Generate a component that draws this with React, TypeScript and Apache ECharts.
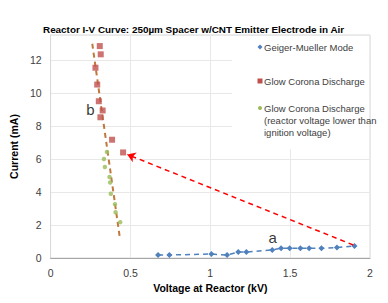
import React, { useEffect, useRef } from "react";
import * as echarts from "echarts";

const titleText = "Reactor I-V Curve: 250µm Spacer w/CNT Emitter Electrode in Air";
const xAxisName = "Voltage at Reactor (kV)";
const yAxisName = "Current (mA)";

const geigerVoltage = [0.673, 0.744, 1.007, 1.105, 1.175, 1.226, 1.388, 1.443, 1.497, 1.564, 1.619, 1.696, 1.793, 1.903];
const geigerCurrent = [0.18, 0.18, 0.24, 0.18, 0.36, 0.36, 0.49, 0.59, 0.59, 0.59, 0.59, 0.59, 0.63, 0.73];

const glowVoltage = [0.308, 0.314, 0.281, 0.292, 0.302, 0.326, 0.312, 0.385, 0.454];
const glowCurrent = [12.83, 12.33, 11.52, 10.5, 9.49, 8.93, 8.52, 7.16, 6.39];

const lowVoltage = [0.353, 0.334, 0.34, 0.369, 0.373, 0.377, 0.403, 0.407, 0.436];
const lowCurrent = [6.42, 5.99, 5.51, 4.9, 4.57, 3.89, 3.26, 2.77, 2.17];

const trendVoltage = [0.261, 0.432];
const trendCurrent = [12.97, 1.34];

const arrowVoltage = [1.895, 0.48];
const arrowCurrent = [0.79, 6.27];

const noteLabels = ["a", "b"];
const noteVoltage = [1.39, 0.25];
const noteCurrent = [1.25, 9.0];

const legendNames = [
  "Geiger-Mueller Mode",
  "Glow Corona Discharge",
  "Glow Corona Discharge\n(reactor voltage lower than\nignition voltage)",
];

const FONT = "'Liberation Sans', sans-serif";
const BLUE = "#4f81bd";
const RED = "#c0504d";
const GREEN = "#9bbb59";

const zip = (a: number[], b: number[]) => a.map((v, i) => [v, b[i]]);

export default function App() {
  const ref = useRef<HTMLDivElement>(null);
  useEffect(() => {
    if (!ref.current) return;
    const chart = echarts.init(ref.current, null, { renderer: "svg" });
    chart.setOption({
      animation: false,
      backgroundColor: "#ffffff",
      title: {
        text: titleText,
        left: 38,
        top: 19,
        textStyle: { fontFamily: FONT, fontSize: 9.9, fontWeight: "bold", color: "#000" },
      },
      grid: {
        left: 41,
        right: 18,
        top: 35,
        bottom: 45,
        show: true,
        borderColor: "#d9d9d9",
        borderWidth: 1,
      },
      xAxis: {
        type: "value",
        min: 0,
        max: 2,
        interval: 0.5,
        name: xAxisName,
        nameLocation: "middle",
        nameGap: 22,
        nameTextStyle: { fontFamily: FONT, fontSize: 10.5, fontWeight: "bold", color: "#000" },
        axisLine: { show: true, lineStyle: { color: "#a6a6a6" } },
        axisTick: { show: false },
        axisLabel: { fontFamily: FONT, fontSize: 10.5, color: "#404040", margin: 9 },
        splitLine: { show: true, lineStyle: { color: "#e8e8e8" } },
      },
      yAxis: {
        type: "value",
        min: 0,
        max: 13.5,
        interval: 2,
        name: yAxisName,
        nameLocation: "middle",
        nameGap: 22,
        nameTextStyle: { fontFamily: FONT, fontSize: 10.5, fontWeight: "bold", color: "#000" },
        axisLine: { show: true, lineStyle: { color: "#d9d9d9" } },
        axisTick: { show: false },
        axisLabel: { fontFamily: FONT, fontSize: 10.5, color: "#404040", margin: 9, showMaxLabel: false },
        splitLine: { show: true, lineStyle: { color: "#e8e8e8" } },
      },
      graphic: [
        { type: "rect", shape: { x: 232, y: 36, width: 137, height: 113 }, style: { fill: "#ffffff" }, z: 50 },
        { type: "polygon", shape: { points: [[260, 44.5], [262.5, 47], [260, 49.5], [257.5, 47]] }, style: { fill: BLUE }, z: 51 },
        { type: "text", x: 264, y: 47, style: { text: legendNames[0], fontFamily: FONT, fontSize: 9.5, fill: "#404040", verticalAlign: "middle" }, z: 51 },
        { type: "rect", shape: { x: 257.5, y: 78.5, width: 5, height: 5 }, style: { fill: RED }, z: 51 },
        { type: "text", x: 264, y: 81, style: { text: legendNames[1], fontFamily: FONT, fontSize: 9.5, fill: "#404040", verticalAlign: "middle" }, z: 51 },
        { type: "circle", shape: { cx: 260, cy: 108, r: 2 }, style: { fill: GREEN }, z: 51 },
        { type: "text", x: 264, y: 102, style: { text: legendNames[2], fontFamily: FONT, fontSize: 9.5, lineHeight: 12, fill: "#404040", verticalAlign: "top" }, z: 51 },
      ],
      series: [
        {
          name: legendNames[0],
          type: "line",
          data: zip(geigerVoltage, geigerCurrent),
          symbol: "diamond",
          symbolSize: 6,
          itemStyle: { color: BLUE },
          lineStyle: { color: BLUE, width: 1.5, type: [5, 4] },
          z: 3,
        },
        {
          name: "trend",
          type: "line",
          data: zip(trendVoltage, trendCurrent),
          symbol: "none",
          lineStyle: { color: "#c0783c", width: 2, type: [5, 4] },
          z: 2,
        },
        {
          name: legendNames[1],
          type: "scatter",
          data: zip(glowVoltage, glowCurrent),
          symbol: "rect",
          symbolSize: 6,
          itemStyle: { color: RED },
          z: 4,
        },
        {
          name: legendNames[2],
          type: "scatter",
          data: zip(lowVoltage, lowCurrent),
          symbol: "circle",
          symbolSize: 4.5,
          itemStyle: { color: GREEN },
          z: 4,
        },
        {
          name: "arrow",
          type: "line",
          data: [],
          markLine: {
            silent: true,
            symbol: ["none", "arrow"],
            symbolSize: 8,
            label: { show: false },
            lineStyle: { color: "#ff0000", width: 1.5, type: [5, 4] },
            data: [[
              { coord: [arrowVoltage[0], arrowCurrent[0]] },
              { coord: [arrowVoltage[1], arrowCurrent[1]] },
            ]],
          },
        },
        {
          name: "notes",
          type: "scatter",
          symbolSize: 0,
          data: noteLabels.map((t, i) => ({ value: [noteVoltage[i], noteCurrent[i]], name: t })),
          label: {
            show: true,
            position: "inside",
            formatter: (p: any) => p.name,
            fontFamily: FONT,
            fontSize: 15,
            color: "#000",
          },
        },
      ],
    });
    return () => chart.dispose();
  }, []);
  return <div ref={ref} style={{ position: "fixed", left: 0, top: 0, width: 388, height: 303 }} />;
}
